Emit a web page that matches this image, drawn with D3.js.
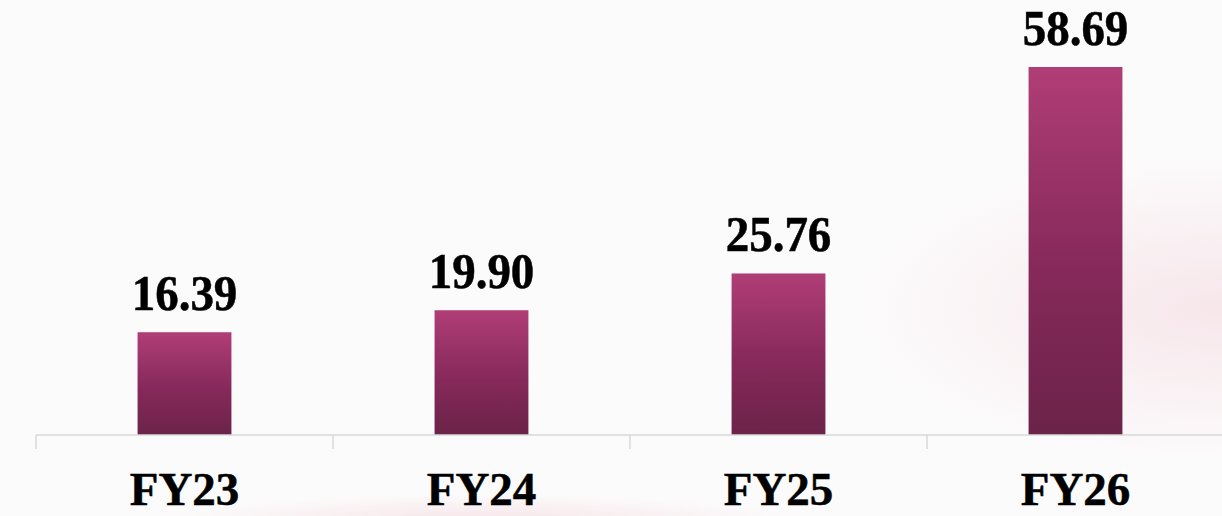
<!DOCTYPE html>
<html>
<head>
<meta charset="utf-8">
<script src="https://cdn.jsdelivr.net/npm/d3@7"></script>
<style>
html,body{margin:0;padding:0;background:#fcfbfb;}
svg{display:block;}
</style>
</head>
<body>
<svg id="chart" width="1222" height="516"></svg>
<script>
const categories = ["FY23", "FY24", "FY25", "FY26"];
const values = [16.39, 19.90, 25.76, 58.69];
const valueLabels = ["16.39", "19.90", "25.76", "58.69"];

const W = 1222, H = 516;
const svg = d3.select("#chart");
const defs = svg.append("defs");

// background
const bgR = defs.append("radialGradient").attr("id","bgPink")
  .attr("cx","1.0").attr("cy","0.6").attr("r","0.3");
bgR.append("stop").attr("offset","0").attr("stop-color","#f6e4e9").attr("stop-opacity",0.9);
bgR.append("stop").attr("offset","1").attr("stop-color","#f6e4e9").attr("stop-opacity",0);
const bgB = defs.append("radialGradient").attr("id","bgBottom");
bgB.append("stop").attr("offset","0").attr("stop-color","#f5e1e6").attr("stop-opacity",0.9);
bgB.append("stop").attr("offset","1").attr("stop-color","#f5e1e6").attr("stop-opacity",0);

svg.append("rect").attr("width",W).attr("height",H).attr("fill","#fcfbfb");
svg.append("rect").attr("width",W).attr("height",H).attr("fill","url(#bgPink)");
svg.append("ellipse").attr("cx",480).attr("cy",522).attr("rx",330).attr("ry",28).attr("fill","url(#bgBottom)");

const grad = defs.append("linearGradient").attr("id","barGrad")
  .attr("x1",0).attr("y1",0).attr("x2",0).attr("y2",1);
grad.append("stop").attr("offset","0").attr("stop-color","#b03e76");
grad.append("stop").attr("offset","0.55").attr("stop-color","#86295a");
grad.append("stop").attr("offset","1").attr("stop-color","#6b2349");

const x = d3.scaleBand().domain(categories).range([36, 1224]).paddingInner(0.684).paddingOuter(0.342);
const xTicks = d3.scaleBand().domain(categories).range([36, 1224]).padding(0);
const y = d3.scaleLinear().domain([0, 58.69]).range([435, 67]);

// bars
svg.append("g").selectAll("rect").data(values).join("rect")
  .attr("x",(d,i)=>x(categories[i]))
  .attr("y",d=>y(d))
  .attr("width",x.bandwidth())
  .attr("height",d=>y(0)-y(d))
  .attr("fill","url(#barGrad)");

// axis
const axis = svg.append("g").attr("transform",`translate(0,${y(0)})`);
axis.append("line").attr("x1",36).attr("x2",1224).attr("y1",0).attr("y2",0)
  .attr("stroke","#d9d9d9").attr("stroke-width",1.5);
const tickPos = categories.map(c=>xTicks(c)).concat([xTicks.range()[1]]);
axis.selectAll("line.tk").data(tickPos).join("line").attr("class","tk")
  .attr("x1",d=>d).attr("x2",d=>d).attr("y1",0).attr("y2",14)
  .attr("stroke","#d9d9d9").attr("stroke-width",1.5);

const fontFam = "'Times New Roman','Liberation Serif',serif";
const sy = 1.08;
// category labels
svg.append("g").selectAll("text").data(categories).join("text")
  .attr("x",d=>x(d)+x.bandwidth()/2)
  .attr("y",505)
  .attr("text-anchor","middle")
  .attr("font-family",fontFam)
  .attr("font-weight","bold")
  .attr("font-size",47)
  .attr("fill","#000")
  .attr("stroke","#000").attr("stroke-width",0.5)
  .text(d=>d);

// value labels
svg.append("g").selectAll("text").data(values).join("text")
  .attr("transform",(d,i)=>`translate(${x(categories[i])+x.bandwidth()/2},${y(d)-22}) scale(1,${sy})`)
  .attr("text-anchor","middle")
  .attr("font-family",fontFam)
  .attr("font-weight","bold")
  .attr("font-size",47)
  .attr("fill","#000")
  .attr("stroke","#000").attr("stroke-width",0.5)
  .text((d,i)=>valueLabels[i]);
</script>
</body>
</html>
